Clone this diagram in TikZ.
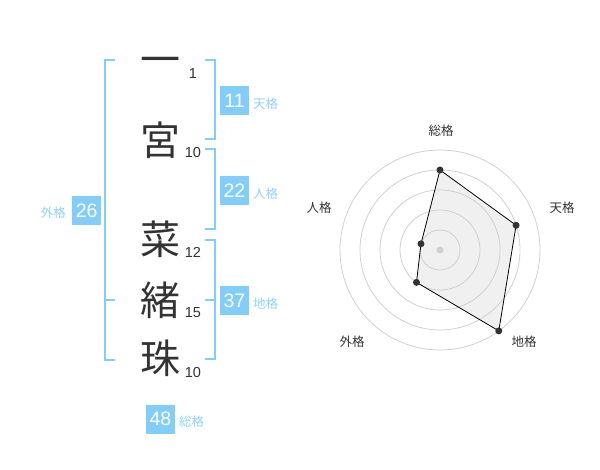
\documentclass[tikz,border=0pt]{standalone}
\usepackage{fontspec}
\setmainfont{Liberation Sans}
\newfontfamily\cjk{Noto Sans CJK JP}
\definecolor{boxblue}{HTML}{82CDFA}
\definecolor{lblblue}{HTML}{8ED3FA}
\definecolor{ink}{HTML}{333333}
\definecolor{ring}{HTML}{D0D0D0}
\definecolor{polyfill}{HTML}{F0F0F0}
\tikzset{
  kanji/.style={inner sep=0pt, text=ink, font=\cjk\fontsize{40}{40}\selectfont},
  strokes/.style={inner sep=0pt, text=ink, font=\fontsize{14.5}{14.5}\selectfont},
  valbox/.style={fill=boxblue, text=white, minimum width=29pt, minimum height=29pt, inner sep=0pt, font=\fontsize{19.5}{19.5}\selectfont},
  vallbl/.style={inner sep=0pt, text=lblblue, font=\cjk\fontsize{12.5}{12.5}\selectfont},
  brk/.style={draw=boxblue, line width=2pt},
  radlbl/.style={inner sep=0pt, text=ink, font=\cjk\fontsize{12.5}{12.5}\selectfont},
  vdot/.style={circle, fill=ink, inner sep=0pt, minimum size=7pt},
}
\begin{document}
\begin{tikzpicture}[x=1pt,y=-1pt]
\useasboundingbox (0,0) rectangle (600,470);
% characters
\node[kanji] (c1) at (160,66) {一};
\node[kanji] (c2) at (160,140) {宮};
\node[kanji] (c3) at (160,239) {菜};
\node[kanji] (c4) at (160,300) {緒};
\node[kanji] (c5) at (160,358.5) {珠};
% stroke counts
\node[strokes] (s1) at (193,73.3) {1};
\node[strokes] (s2) at (193,152.7) {10};
\node[strokes] (s3) at (193,252.3) {12};
\node[strokes] (s4) at (193,312.7) {15};
\node[strokes] (s5) at (193,372.7) {10};
% brackets
\coordinate (lt) at (105,60);
\coordinate (lm) at (105,300);
\coordinate (lb) at (105,360);
\draw[brk] ([xshift=10pt]lt) -- (lt) -- (lb) -- ([xshift=10pt]lb);
\draw[brk] (lm) -- ([xshift=10pt]lm);
\coordinate (r1t) at (215,60);
\coordinate (r1b) at (215,139.3);
\draw[brk] ([xshift=-10pt]r1t) -- (r1t) -- (r1b) -- ([xshift=-10pt]r1b);
\coordinate (r2t) at (215,149.3);
\coordinate (r2b) at (215,229.3);
\draw[brk] ([xshift=-10pt]r2t) -- (r2t) -- (r2b) -- ([xshift=-10pt]r2b);
\coordinate (r3t) at (215,240);
\coordinate (r3m) at (215,300);
\coordinate (r3b) at (215,359.3);
\draw[brk] ([xshift=-10pt]r3t) -- (r3t) -- (r3b) -- ([xshift=-10pt]r3b);
\draw[brk] (r3m) -- ([xshift=-10pt]r3m);
% value boxes
\node[valbox] (b26) at (86.7,210.3) {26};
\node[vallbl] (l26) at (53.3,213) {外格};
\node[valbox] (b11) at (234.5,100.5) {11};
\node[vallbl] (l11) at (265.7,104) {天格};
\node[valbox] (b22) at (234.5,190.5) {22};
\node[vallbl] (l22) at (265.7,194) {人格};
\node[valbox] (b37) at (234.5,300.5) {37};
\node[vallbl] (l37) at (265.7,304) {地格};
\node[valbox] (b48) at (160.5,419) {48};
\node[vallbl] (l48) at (191.7,422) {総格};
% radar
\begin{scope}[shift={(440,250)}, yscale=-1]
  \coordinate (pso) at (90:80);
  \coordinate (pte) at (18:80);
  \coordinate (pch) at (-54:100);
  \coordinate (pga) at (234:40);
  \coordinate (pji) at (162:20);
  \fill[polyfill] (pso) -- (pte) -- (pch) -- (pga) -- (pji) -- cycle;
  \foreach \r in {20,40,60,80,100} \draw[ring, line width=0.8pt] (0,0) circle (\r);
  \draw[black, line width=0.8pt] (pso) -- (pte) -- (pch) -- (pga) -- (pji) -- cycle;
  \node[circle, fill=ring, inner sep=0pt, minimum size=7pt] (ctr) at (0,0) {};
  \node[vdot] (dso) at (pso) {};
  \node[vdot] (dte) at (pte) {};
  \node[vdot] (dch) at (pch) {};
  \node[vdot] (dga) at (pga) {};
  \node[vdot] (dji) at (pji) {};
\end{scope}
\node[radlbl] (rso) at (441,130.7) {総格};
\node[radlbl] (rte) at (562,208) {天格};
\node[radlbl] (rch) at (524,342) {地格};
\node[radlbl] (rga) at (352,342) {外格};
\node[radlbl] (rji) at (319,208) {人格};
\end{tikzpicture}
\end{document}
